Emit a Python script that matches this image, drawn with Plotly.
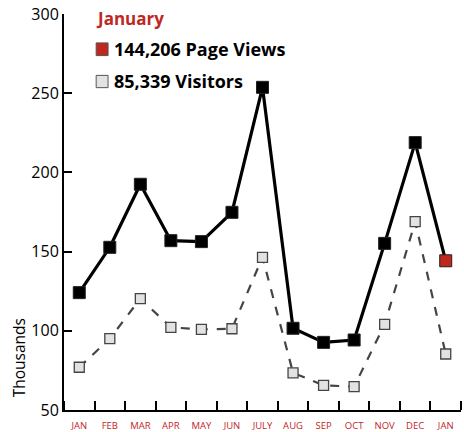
import plotly.graph_objects as go

months = ["JAN", "FEB", "MAR", "APR", "MAY", "JUN", "JULY", "AUG", "SEP", "OCT", "NOV", "DEC", "JAN"]
page_views = [124.1, 152.7, 192.5, 156.9, 156.3, 174.8, 253.7, 101.6, 92.7, 94.2, 155.2, 218.8, 144.206]
visitors = [77.0, 95.0, 120.3, 102.2, 100.9, 101.3, 146.4, 73.5, 65.6, 64.7, 104.1, 168.9, 85.339]
y_ticks = [50, 100, 150, 200, 250, 300]
current_month = "January"
pv_current = 144206
vis_current = 85339

RED = "#c0271f"
FONT = "Open Sans"
xs = list(range(len(months)))

fig = go.Figure()
fig.add_trace(go.Scatter(
    x=xs, y=visitors, mode="lines+markers",
    line=dict(color="#444444", width=2.2, dash="dash"),
    marker=dict(symbol="square", size=10, color="#e2e2e2", line=dict(color="#444444", width=1.3)),
    showlegend=False, cliponaxis=False))
pv_colors = ["#000000"] * (len(months) - 1) + [RED]
fig.add_trace(go.Scatter(
    x=xs, y=page_views, mode="lines+markers",
    line=dict(color="#000000", width=3.2),
    marker=dict(symbol="square", size=12, color=pv_colors, line=dict(color="#222222", width=1)),
    showlegend=False, cliponaxis=False))

fig.update_xaxes(
    range=[-0.5, len(months) - 0.5],
    tickvals=xs, ticktext=months, ticks="",
    tickfont=dict(family=FONT, size=9.5, color=RED),
    ticklabelstandoff=6, automargin=False,
    showline=True, linecolor="#000000", linewidth=2,
    showgrid=False, zeroline=False,
    minor=dict(tick0=0.5, dtick=1, ticks="inside", ticklen=9, tickwidth=1.5, tickcolor="#000000", showgrid=False),
)
fig.update_yaxes(
    range=[50, 300], tickvals=y_ticks, automargin=False,
    ticks="inside", ticklen=8, tickwidth=1.5, tickcolor="#000000",
    tickfont=dict(family=FONT, size=16, color="#000000"),
    showline=True, linecolor="#000000", linewidth=2,
    showgrid=False, zeroline=False,
)

# legend block
fig.add_annotation(xref="paper", yref="paper", x=0.075, y=0.988, xanchor="left", yanchor="middle",
                   text="<b>%s</b>" % current_month, showarrow=False,
                   font=dict(family=FONT, size=17, color=RED))
fig.add_annotation(xref="paper", yref="paper", x=0.122, y=0.911, xanchor="left", yanchor="middle",
                   text="<b>%s Page Views</b>" % f"{pv_current:,}", showarrow=False,
                   font=dict(family=FONT, size=18, color="#000000"))
fig.add_annotation(xref="paper", yref="paper", x=0.122, y=0.830, xanchor="left", yanchor="middle",
                   text="<b>%s Visitors</b>" % f"{vis_current:,}", showarrow=False,
                   font=dict(family=FONT, size=18, color="#000000"))
fig.add_shape(type="rect", xref="paper", yref="paper", x0=0.081, x1=0.111, y0=0.895, y1=0.927,
              fillcolor=RED, line=dict(color="#555555", width=1))
fig.add_shape(type="rect", xref="paper", yref="paper", x0=0.081, x1=0.111, y0=0.814, y1=0.845,
              fillcolor="#e2e2e2", line=dict(color="#555555", width=1))

fig.add_annotation(xref="paper", yref="paper", x=-0.113, y=0.131, xanchor="center", yanchor="middle",
                   text="Thousands", textangle=-90, showarrow=False,
                   font=dict(family=FONT, size=15.5, color="#000000"))

fig.update_layout(
    width=464, height=432,
    margin=dict(l=64, r=3, t=14, b=22),
    paper_bgcolor="white", plot_bgcolor="white",
    font=dict(family=FONT),
)
fig.write_html("out.html", config={"displayModeBar": False})

with open("out.html", "r", encoding="utf-8") as f:
    html = f.read()
html = html.replace("<body>", '<body style="margin:0;padding:0;overflow:hidden">', 1)
with open("out.html", "w", encoding="utf-8") as f:
    f.write(html)
